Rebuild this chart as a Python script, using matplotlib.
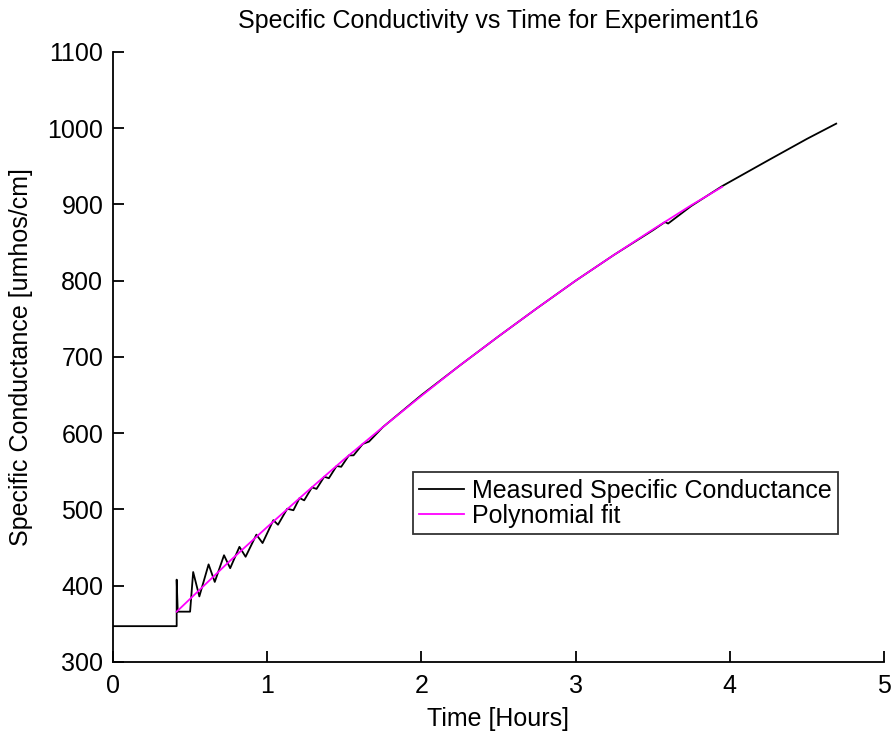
import matplotlib
matplotlib.use("Agg")
import matplotlib.pyplot as plt

plt.rcParams["font.family"] = ["Liberation Sans", "DejaVu Sans"]

# measured specific conductance (hours, umhos/cm)
meas_t = [0.0, 0.413, 0.413, 0.42, 0.50, 0.52, 0.56, 0.62, 0.66, 0.72, 0.76,
          0.82, 0.86, 0.93, 0.97, 1.04, 1.07, 1.13, 1.17, 1.21, 1.24, 1.29,
          1.32, 1.37, 1.40, 1.45, 1.48, 1.53, 1.56, 1.62, 1.66, 1.75, 2.0,
          2.25, 2.5, 2.75, 3.0, 3.25, 3.5, 3.58, 3.6, 3.75, 3.95, 4.25, 4.5,
          4.69]
meas_v = [347, 347, 408, 366, 366, 418, 386, 428, 405, 440, 423,
          451, 438, 467, 456, 486, 480, 501, 499, 515, 512, 529,
          527, 543, 541, 557, 556, 571, 571, 586, 589, 608, 650,
          689, 727, 764, 800, 834, 866, 877, 875, 898, 924, 958, 986,
          1006]

# polynomial fit
fit_t = [0.413, 0.75, 1.0, 1.25, 1.5, 1.75, 2.0, 2.25, 2.5, 2.75, 3.0,
         3.25, 3.5, 3.75, 3.95]
fit_v = [366, 431, 477, 522, 566, 608, 649, 689, 727, 764, 800,
         834, 867, 899, 923]

fig = plt.figure(figsize=(8.96, 7.34), dpi=100)
ax = fig.add_axes([0.1261, 0.0981, 0.8605, 0.8311])

ax.plot(meas_t, meas_v, color="black", lw=1.3, label="Measured Specific Conductance")
ax.plot(fit_t, fit_v, color="magenta", lw=1.3, label="Polynomial fit")

ax.set_xlim(0, 5)
ax.set_ylim(300, 1100)
ax.set_xticks([0, 1, 2, 3, 4, 5])
ax.set_yticks(range(300, 1101, 100))
ax.spines["top"].set_visible(False)
ax.spines["right"].set_visible(False)
ax.tick_params(direction="in", labelsize=18, length=8, width=1.3)
ax.tick_params(axis="x", pad=9)
ax.tick_params(axis="y", pad=7)
for s in ax.spines.values():
    s.set_linewidth(1.3)

ax.set_title("Specific Conductivity vs Time for Experiment16", fontsize=18, pad=17)
ax.set_xlabel("Time [Hours]", fontsize=18, labelpad=6)
ax.set_ylabel("Specific Conductance [umhos/cm]", fontsize=18, labelpad=10)

leg = ax.legend(loc="upper left", bbox_to_anchor=(0.389, 0.311),
                fontsize=18, frameon=True, fancybox=False, borderpad=0.25,
                handlelength=1.8, handletextpad=0.3, labelspacing=0.05,
                borderaxespad=0)
leg.get_frame().set_edgecolor("black")
leg.get_frame().set_linewidth(1.3)

fig.savefig("out.png", dpi=100)
